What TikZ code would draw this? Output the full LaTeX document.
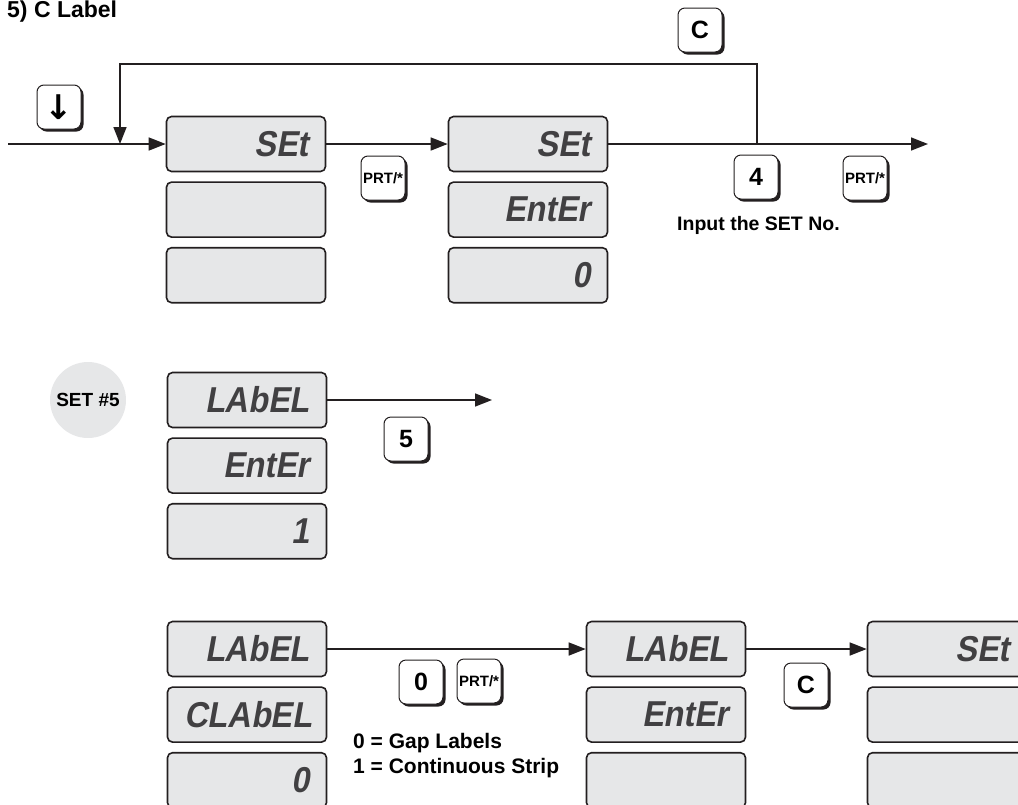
\documentclass[tikz,border=0pt]{standalone}
\usepackage{fontspec}
\setmainfont{Liberation Sans}
\newfontfamily\arrowfont{DejaVu Sans}
\newfontfamily\lcdfont{Liberation Sans}[FakeStretch=0.9,FakeSlant=0.18]
\usetikzlibrary{arrows.meta,positioning,shadows}
\definecolor{LcdGray}{HTML}{E6E7E8}
\definecolor{LcdInk}{HTML}{414042}
\definecolor{Ink}{HTML}{231F20}

\begin{document}
\begin{tikzpicture}[x=1pt,y=-1pt,node distance=9pt,
  lcd/.style={draw=Ink, line width=1.6pt, fill=LcdGray, rounded corners=5pt,
              minimum height=55pt, text width=125pt, inner xsep=17pt, inner ysep=0pt,
              align=right, font=\lcdfont\bfseries\fontsize{36}{36}\selectfont\color{LcdInk}},
  keycap/.style={draw=Ink, line width=1pt, fill=white, rounded corners=7pt,
                 minimum size=44pt, inner sep=0pt, font=\bfseries\fontsize{25}{25}\selectfont,
                 drop shadow={shadow xshift=2.5pt, shadow yshift=-2.5pt, fill=Ink, opacity=1}},
  smallkey/.style={keycap, font=\bfseries\fontsize{15}{15}\selectfont},
  flow/.style={draw=Ink, line width=1.5pt, -{Triangle[length=17pt,width=13pt]}},
  note/.style={font=\bfseries\fontsize{19.5}{25}\selectfont, align=left, inner sep=0pt}]
  \useasboundingbox (0,0) rectangle (1018,804);

  \node[anchor=base west, inner sep=0pt, font=\bfseries\fontsize{23}{23}\selectfont] (title) at (7,17) {5) C Label};

  % first row
  \node[lcd] (a1) at (246,144) {SEt};
  \node[lcd, below=of a1] (a2) {};
  \node[lcd, below=of a2] (a3) {};
  \node[lcd] (b1) at (528,144) {SEt};
  \node[lcd, below=of b1] (b2) {EntEr};
  \node[lcd, below=of b2] (b3) {0};

  \node[keycap, font=\arrowfont\bfseries\fontsize{34}{34}\selectfont] (kdown) at (59,107) {↓};
  \node[smallkey] (kprt1) at (383,178) {PRT/*};
  \node[keycap] (kc1) at (700,30) {C};
  \node[keycap] (k4) at (756,177) {4};
  \node[smallkey] (kprt2) at (865,178) {PRT/*};
  \node[note, anchor=base west] (setnote) at (677,230) {Input the SET No.};

  \coordinate (start) at (8,144);
  \coordinate (exit) at (928,144);
  \coordinate (loopR) at (757,144);
  \coordinate (loopL) at (120,144);
  \draw[flow] (start) -- (a1);
  \draw[flow] (a1) -- (b1);
  \draw[flow] (b1) -- (exit);
  \draw[flow] (loopR) -- ++(0,-80) -| (loopL);

  % second row
  \node[circle, fill=LcdGray, minimum size=76pt, inner sep=0pt,
        font=\bfseries\fontsize{19}{19}\selectfont] (set5) at (88,400) {SET \#5};
  \node[lcd] (c1) at (247,400) {LAbEL};
  \node[lcd, below=of c1] (c2) {EntEr};
  \node[lcd, below=of c2] (c3) {1};
  \node[keycap] (k5) at (406,439) {5};
  \coordinate (c-out) at (492,400);
  \draw[flow] (c1) -- (c-out);

  % third row
  \node[lcd] (d1) at (247,649) {LAbEL};
  \node[lcd, below=of d1] (d2) {CLAbEL};
  \node[lcd, below=of d2] (d3) {0};
  \node[lcd] (e1) at (666,649) {LAbEL};
  \node[lcd, below=of e1] (e2) {EntEr};
  \node[lcd, below=of e2] (e3) {};
  \node[lcd] (f1) at (947,649) {SEt};
  \node[lcd, below=of f1] (f2) {};
  \node[lcd, below=of f2] (f3) {};

  \node[keycap] (k0) at (421,682) {0};
  \node[smallkey] (kprt3) at (479,681) {PRT/*};
  \node[keycap] (kc2) at (806,685) {C};
  \node[note, anchor=north west, font=\bfseries\fontsize{21}{25}\selectfont] (gapnote) at (353,733) {0 = Gap Labels\\1 = Continuous Strip};

  \draw[flow] (d1) -- (e1);
  \draw[flow] (e1) -- (f1);
\end{tikzpicture}
\end{document}
